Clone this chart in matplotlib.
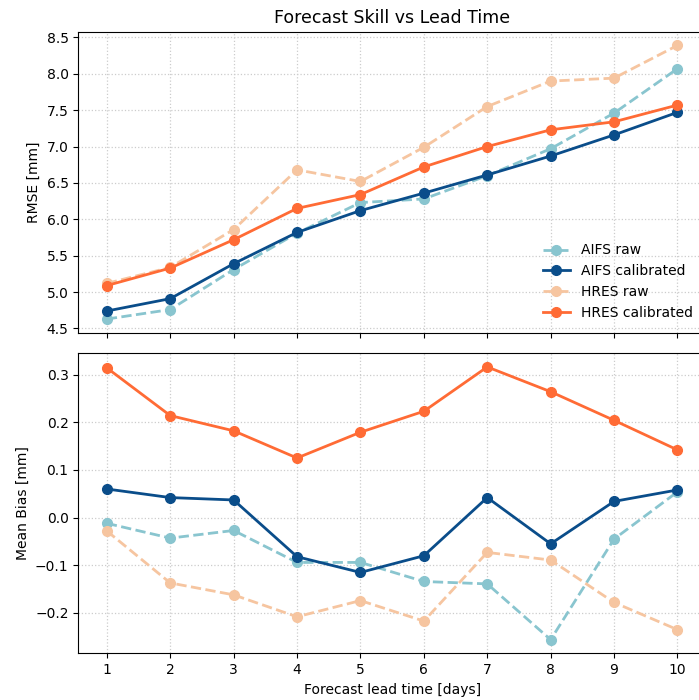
import numpy as np
import matplotlib
matplotlib.use("Agg")
import matplotlib.pyplot as plt

# lead times in days
lead_days = [1, 2, 3, 4, 5, 6, 7, 8, 9, 10]

# RMSE [mm]
rmse_aifs_raw = [4.63, 4.76, 5.31, 5.81, 6.23, 6.28, 6.60, 6.97, 7.46, 8.07]
rmse_aifs_cal = [4.74, 4.91, 5.39, 5.82, 6.12, 6.36, 6.61, 6.87, 7.16, 7.47]
rmse_hres_raw = [5.12, 5.34, 5.86, 6.68, 6.52, 6.99, 7.55, 7.90, 7.94, 8.39]
rmse_hres_cal = [5.09, 5.33, 5.72, 6.15, 6.34, 6.72, 7.00, 7.23, 7.34, 7.57]

# mean bias [mm]
bias_aifs_raw = [-0.012, -0.043, -0.027, -0.094, -0.094, -0.134, -0.139, -0.256, -0.045, 0.054]
bias_aifs_cal = [0.060, 0.042, 0.037, -0.082, -0.115, -0.080, 0.042, -0.055, 0.034, 0.058]
bias_hres_raw = [-0.028, -0.137, -0.162, -0.208, -0.174, -0.217, -0.073, -0.089, -0.178, -0.235]
bias_hres_cal = [0.314, 0.214, 0.182, 0.125, 0.179, 0.223, 0.316, 0.264, 0.204, 0.142]

c_aifs_raw = '#89c5cf'
c_aifs_cal = '#0a4d8a'
c_hres_raw = '#f6c5a0'
c_hres_cal = '#ff6b35'

fig = plt.figure(figsize=(6.99, 7.0), dpi=100)
ax1 = fig.add_axes([0.112, 0.5247, 0.898, 0.43])
ax2 = fig.add_axes([0.112, 0.0667, 0.898, 0.4286], sharex=ax1)

series = [
    (rmse_aifs_raw, bias_aifs_raw, c_aifs_raw, '--', 'AIFS raw'),
    (rmse_aifs_cal, bias_aifs_cal, c_aifs_cal, '-', 'AIFS calibrated'),
    (rmse_hres_raw, bias_hres_raw, c_hres_raw, '--', 'HRES raw'),
    (rmse_hres_cal, bias_hres_cal, c_hres_cal, '-', 'HRES calibrated'),
]

for rmse, bias, col, ls, lab in series:
    ax1.plot(lead_days, rmse, ls, color=col, marker='o', lw=2, ms=7, label=lab)
    ax2.plot(lead_days, bias, ls, color=col, marker='o', lw=2, ms=7, label=lab)

for ax in (ax1, ax2):
    ax.grid(True, linestyle=':', color='#cccccc', linewidth=0.9)
    ax.tick_params(labelsize=10)

ax1.set_title("Forecast Skill vs Lead Time", fontsize=12.5)
ax1.set_ylabel("RMSE [mm]", fontsize=10)
ax1.set_yticks(np.arange(4.5, 8.51, 0.5))
ax1.tick_params(labelbottom=False)
ax1.legend(loc='lower right', frameon=False, fontsize=10)

ax2.set_ylabel("Mean Bias [mm]", fontsize=10)
ax2.set_xlabel("Forecast lead time [days]", fontsize=10)
ax2.set_xticks(lead_days)
ax2.set_yticks([-0.2, -0.1, 0.0, 0.1, 0.2, 0.3])

fig.savefig("out.png", dpi=100)
